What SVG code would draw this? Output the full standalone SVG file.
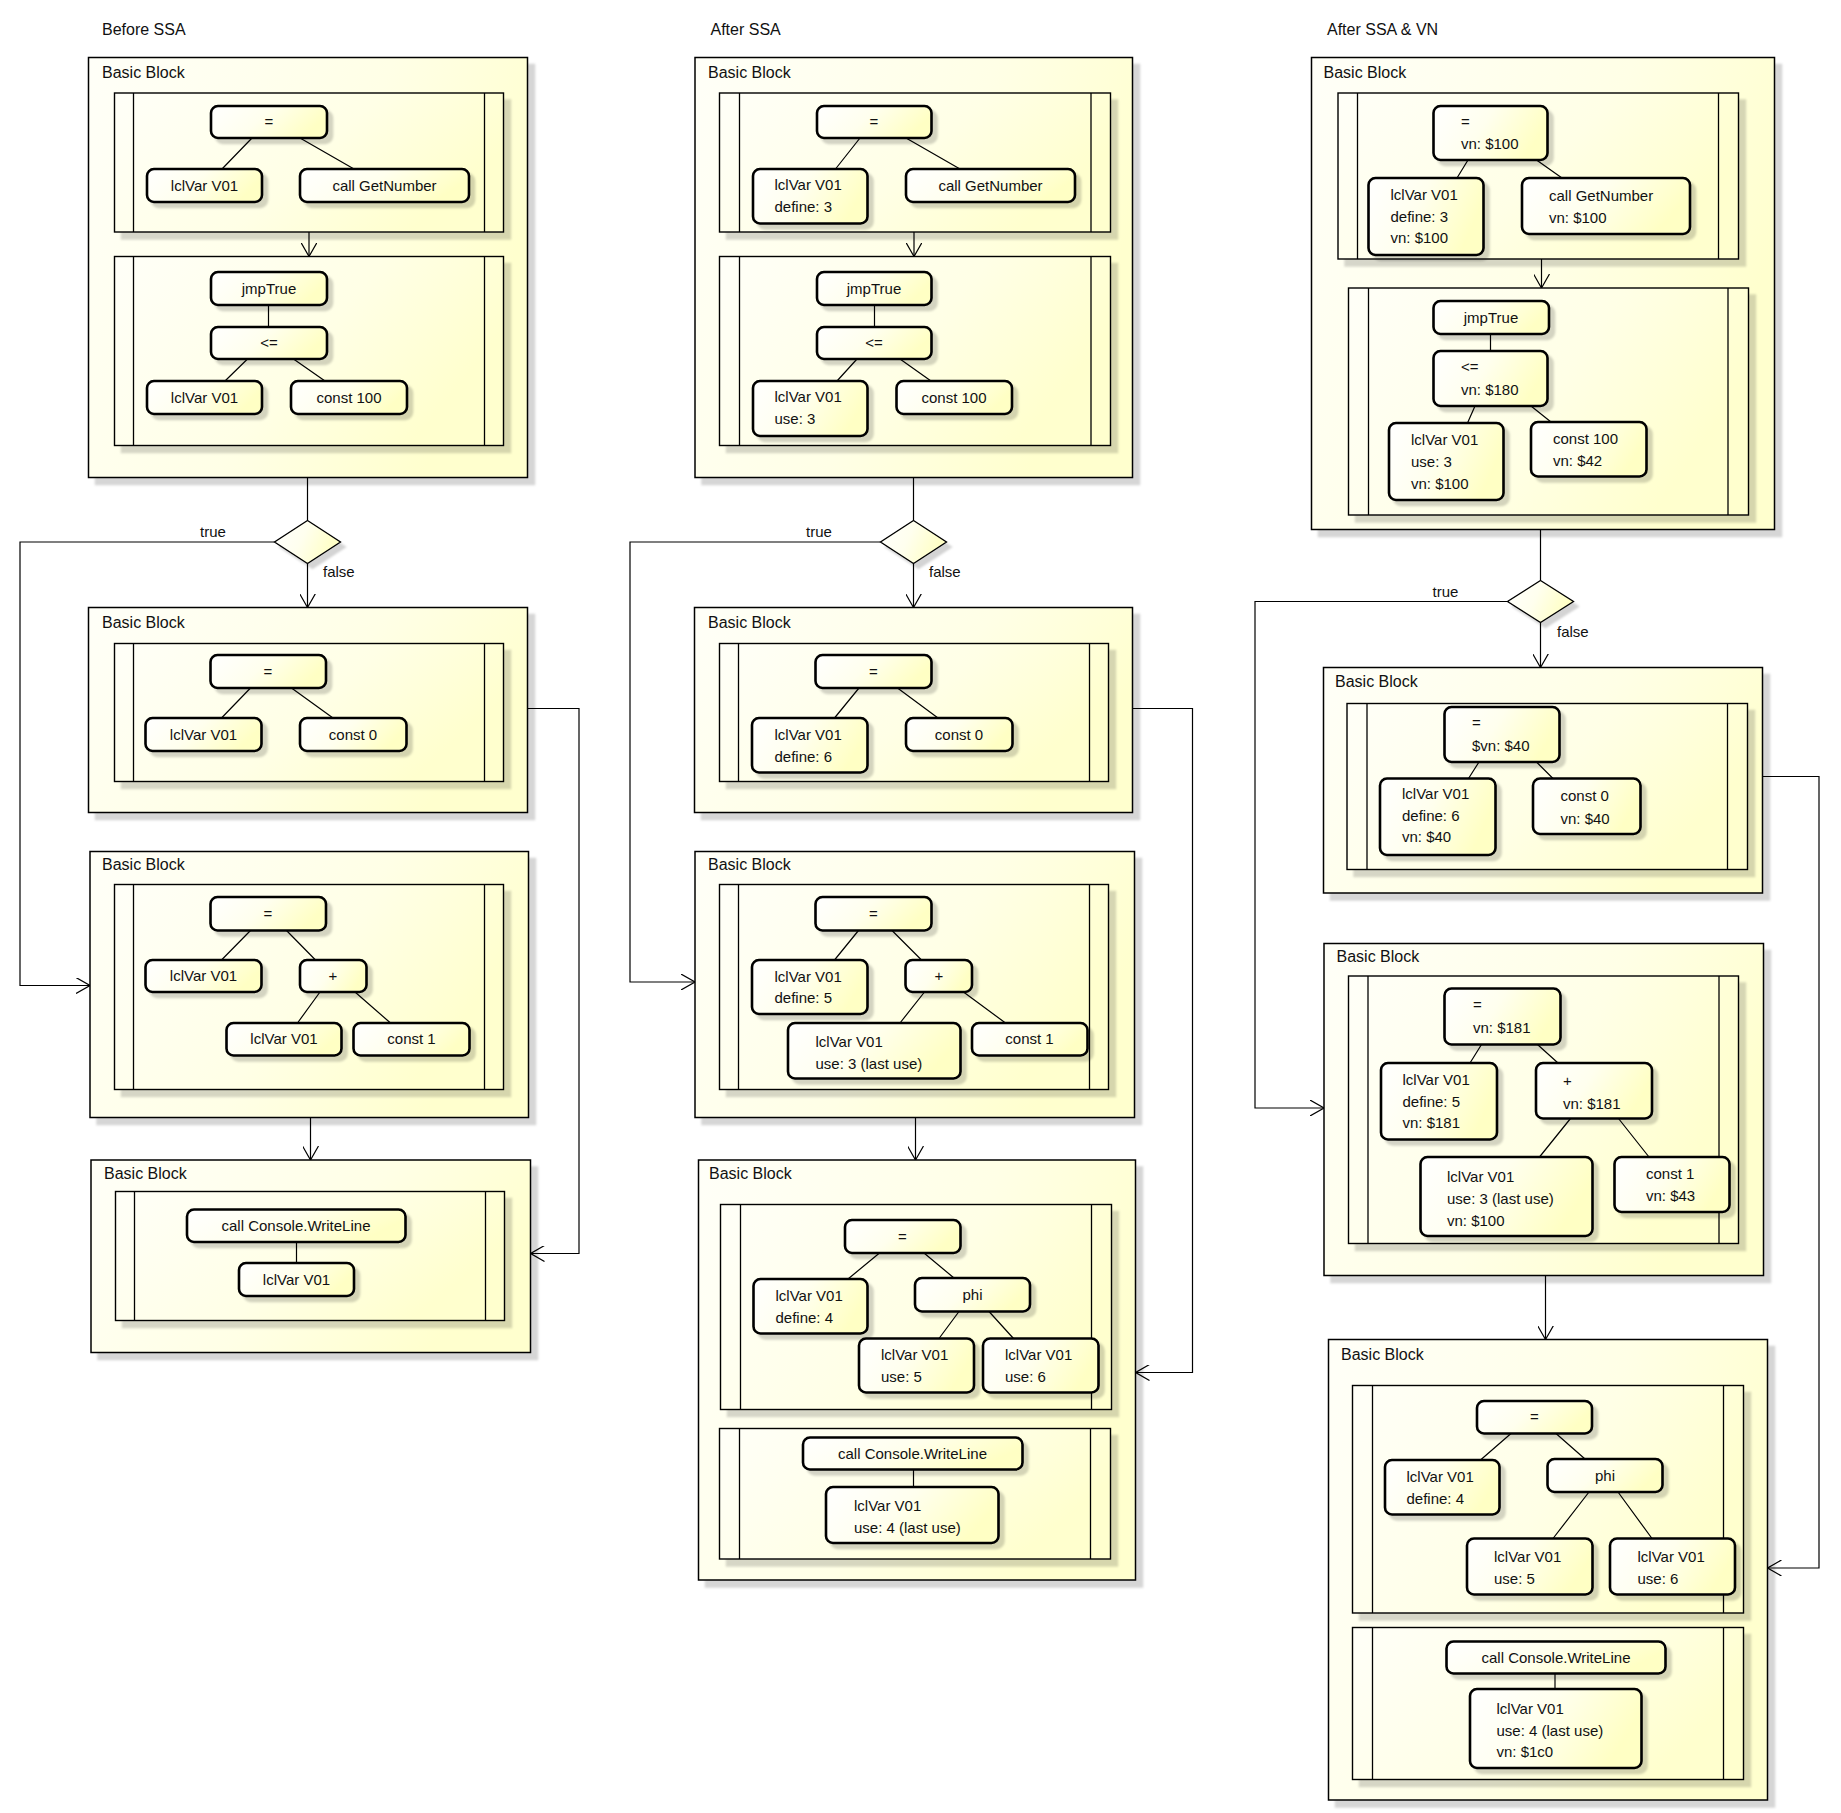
<svg xmlns="http://www.w3.org/2000/svg" width="1841" height="1813" viewBox="0 0 1841 1813">
<defs>
<linearGradient id="gb" x1="0" y1="0" x2="1" y2="0.4"><stop offset="0" stop-color="#FFFFF8"/><stop offset="0.6" stop-color="#FFFFE6"/><stop offset="1" stop-color="#FFFFCE"/></linearGradient>
<linearGradient id="gn" x1="0" y1="0" x2="1" y2="0.3"><stop offset="0" stop-color="#FFFFFF"/><stop offset="0.5" stop-color="#FFFFEE"/><stop offset="1" stop-color="#FFFFC4"/></linearGradient>
<filter id="ds" x="-5%" y="-5%" width="115%" height="120%"><feOffset in="SourceAlpha" dx="7" dy="7" result="o"/><feGaussianBlur in="o" stdDeviation="1" result="b"/><feFlood flood-color="#000" flood-opacity="0.16"/><feComposite in2="b" operator="in" result="s"/><feMerge><feMergeNode in="s"/><feMergeNode in="SourceGraphic"/></feMerge></filter>
<filter id="ds2" x="-10%" y="-10%" width="140%" height="160%"><feOffset in="SourceAlpha" dx="5" dy="5" result="o"/><feGaussianBlur in="o" stdDeviation="1.2" result="b"/><feFlood flood-color="#000" flood-opacity="0.17"/><feComposite in2="b" operator="in" result="s"/><feMerge><feMergeNode in="s"/><feMergeNode in="SourceGraphic"/></feMerge></filter>
<marker id="arr" markerUnits="userSpaceOnUse" viewBox="0 0 14 16" refX="14" refY="8" markerWidth="14" markerHeight="16" orient="auto"><path d="M0,0 L14,8 L0,16" fill="none" stroke="#000" stroke-width="1.2"/></marker>
</defs>
<style>
.blk{fill:url(#gb);stroke:#000;stroke-width:1.5;filter:url(#ds)}
.cmp{fill:url(#gb);stroke:#000;stroke-width:1.4;filter:url(#ds)}
.bar{stroke:#000;stroke-width:1.3}
.nd{fill:url(#gn);stroke:#000;stroke-width:2.6;filter:url(#ds2)}
.dm{fill:url(#gn);stroke:#000;stroke-width:1.3;filter:url(#ds2)}
.ed{stroke:#000;stroke-width:1.2;fill:none}
.ar{marker-end:url(#arr)}
text{font-family:"Liberation Sans",Arial,sans-serif;font-size:15px;fill:#111}
.c{text-anchor:middle}
.h{font-size:16px}
</style>
<rect width="1841" height="1813" fill="#fff"/>

<text class="h" x="102" y="35">Before SSA</text>
<text class="h" x="710.5" y="35">After SSA</text>
<text class="h" x="1327" y="35">After SSA &amp; VN</text>

<!-- ================= COLUMN 1 ================= -->
<g id="c1b1">
<rect class="blk" x="88.5" y="57.5" width="439" height="420"/>
<text class="h" x="102" y="78">Basic Block</text>
<g id="c1b1s1"><rect class="cmp" x="114.5" y="93" width="389" height="139"/><line class="bar" x1="133.5" y1="93" x2="133.5" y2="232"/><line class="bar" x1="484.5" y1="93" x2="484.5" y2="232"/>
<g id="c1n1"><rect class="nd" x="211" y="106" width="116" height="32" rx="7"/><text class="c" x="269" y="127">=</text></g>
<g id="c1n2"><rect class="nd" x="147" y="169" width="115" height="33" rx="7"/><text class="c" x="204.5" y="190.5">lclVar V01</text></g>
<g id="c1n3"><rect class="nd" x="300" y="169" width="169" height="33" rx="7"/><text class="c" x="384.5" y="190.5">call GetNumber</text></g>
</g>
<g id="c1b1s2"><rect class="cmp" x="114.5" y="256.5" width="389" height="189"/><line class="bar" x1="133.5" y1="256.5" x2="133.5" y2="445.5"/><line class="bar" x1="484.5" y1="256.5" x2="484.5" y2="445.5"/>
<g id="c1n4"><rect class="nd" x="211" y="272" width="116" height="33" rx="7"/><text class="c" x="269" y="293.5">jmpTrue</text></g>
<g id="c1n5"><rect class="nd" x="211" y="327" width="116" height="32" rx="7"/><text class="c" x="269" y="348">&lt;=</text></g>
<g id="c1n6"><rect class="nd" x="147" y="381" width="115" height="33" rx="7"/><text class="c" x="204.5" y="402.5">lclVar V01</text></g>
<g id="c1n7"><rect class="nd" x="291" y="381" width="116" height="33" rx="7"/><text class="c" x="349" y="402.5">const 100</text></g>
</g>
</g>
<g id="c1d"><polygon class="dm" points="307.5,520.5 340.5,542 307.5,563.5 274.5,542"/></g>

<g id="c1b2">
<rect class="blk" x="88.5" y="607.5" width="439" height="205"/>
<text class="h" x="102" y="628">Basic Block</text>
<g id="c1b2s1"><rect class="cmp" x="114.5" y="643.5" width="389" height="138"/><line class="bar" x1="133.5" y1="643.5" x2="133.5" y2="781.5"/><line class="bar" x1="484.5" y1="643.5" x2="484.5" y2="781.5"/>
<g id="c1n8"><rect class="nd" x="210.5" y="655" width="115.5" height="33" rx="7"/><text class="c" x="268" y="676.5">=</text></g>
<g id="c1n9"><rect class="nd" x="145.5" y="718" width="116" height="33" rx="7"/><text class="c" x="203.5" y="739.5">lclVar V01</text></g>
<g id="c1n10"><rect class="nd" x="300" y="718" width="106.5" height="33" rx="7"/><text class="c" x="353" y="739.5">const 0</text></g>
</g>
</g>

<g id="c1b3">
<rect class="blk" x="90" y="851.5" width="438.5" height="266"/>
<text class="h" x="102" y="870">Basic Block</text>
<g id="c1b3s1"><rect class="cmp" x="114.5" y="884.5" width="389" height="205"/><line class="bar" x1="133.5" y1="884.5" x2="133.5" y2="1089.5"/><line class="bar" x1="484.5" y1="884.5" x2="484.5" y2="1089.5"/>
<g id="c1n11"><rect class="nd" x="210.5" y="897" width="115.5" height="33.5" rx="7"/><text class="c" x="268" y="919">=</text></g>
<g id="c1n12"><rect class="nd" x="145.5" y="960" width="116" height="32" rx="7"/><text class="c" x="203.5" y="981">lclVar V01</text></g>
<g id="c1n13"><rect class="nd" x="300" y="960" width="66.5" height="32" rx="7"/><text class="c" x="333" y="981">+</text></g>
<g id="c1n14"><rect class="nd" x="226.5" y="1023" width="115" height="32.5" rx="7"/><text class="c" x="284" y="1044">lclVar V01</text></g>
<g id="c1n15"><rect class="nd" x="353.5" y="1023" width="116" height="32.5" rx="7"/><text class="c" x="411.5" y="1044">const 1</text></g>
</g>
</g>

<g id="c1b4">
<rect class="blk" x="91" y="1160" width="439.5" height="192.5"/>
<text class="h" x="104" y="1179">Basic Block</text>
<g id="c1b4s1"><rect class="cmp" x="115.5" y="1191.5" width="389" height="129"/><line class="bar" x1="134.5" y1="1191.5" x2="134.5" y2="1320.5"/><line class="bar" x1="485.5" y1="1191.5" x2="485.5" y2="1320.5"/>
<g id="c1n16"><rect class="nd" x="187" y="1209.5" width="218.5" height="32.5" rx="7"/><text class="c" x="296" y="1231">call Console.WriteLine</text></g>
<g id="c1n17"><rect class="nd" x="239" y="1263" width="115" height="33" rx="7"/><text class="c" x="296.5" y="1284.5">lclVar V01</text></g>
</g>
</g>

<!-- ================= COLUMN 2 ================= -->
<g id="c2b1">
<rect class="blk" x="695" y="57.5" width="437.5" height="420"/>
<text class="h" x="708" y="78">Basic Block</text>
<g id="c2b1s1"><rect class="cmp" x="719.5" y="93" width="391" height="139"/><line class="bar" x1="739.5" y1="93" x2="739.5" y2="232"/><line class="bar" x1="1091" y1="93" x2="1091" y2="232"/>
<g id="c2n1"><rect class="nd" x="817" y="106" width="114.5" height="32" rx="7"/><text class="c" x="874" y="127">=</text></g>
<g id="c2n2"><rect class="nd" x="753" y="169" width="114.5" height="54.5" rx="7"/><text x="774.5" y="190">lclVar V01</text><text x="774.5" y="212">define: 3</text></g>
<g id="c2n3"><rect class="nd" x="906" y="169" width="169" height="33" rx="7"/><text class="c" x="990.5" y="190.5">call GetNumber</text></g>
</g>
<g id="c2b1s2"><rect class="cmp" x="719.5" y="256.5" width="391" height="189"/><line class="bar" x1="739.5" y1="256.5" x2="739.5" y2="445.5"/><line class="bar" x1="1091" y1="256.5" x2="1091" y2="445.5"/>
<g id="c2n4"><rect class="nd" x="817" y="272" width="114.5" height="33" rx="7"/><text class="c" x="874" y="293.5">jmpTrue</text></g>
<g id="c2n5"><rect class="nd" x="817" y="327" width="114.5" height="32" rx="7"/><text class="c" x="874" y="348">&lt;=</text></g>
<g id="c2n6"><rect class="nd" x="753" y="381" width="114.5" height="55" rx="7"/><text x="774.5" y="402">lclVar V01</text><text x="774.5" y="424">use: 3</text></g>
<g id="c2n7"><rect class="nd" x="896.5" y="381" width="115.5" height="33" rx="7"/><text class="c" x="954" y="402.5">const 100</text></g>
</g>
</g>
<g id="c2d"><polygon class="dm" points="913.5,520.5 946.5,542 913.5,563.5 880.5,542"/></g>

<g id="c2b2">
<rect class="blk" x="694.5" y="607.5" width="438" height="205"/>
<text class="h" x="708" y="628">Basic Block</text>
<g id="c2b2s1"><rect class="cmp" x="719.5" y="643.5" width="389" height="138"/><line class="bar" x1="738.5" y1="643.5" x2="738.5" y2="781.5"/><line class="bar" x1="1089.5" y1="643.5" x2="1089.5" y2="781.5"/>
<g id="c2n8"><rect class="nd" x="815.5" y="655" width="116" height="33" rx="7"/><text class="c" x="873.5" y="676.5">=</text></g>
<g id="c2n9"><rect class="nd" x="752" y="718" width="115.5" height="54.5" rx="7"/><text x="774.5" y="739.5">lclVar V01</text><text x="774.5" y="761.5">define: 6</text></g>
<g id="c2n10"><rect class="nd" x="906" y="718" width="106.5" height="33" rx="7"/><text class="c" x="959" y="739.5">const 0</text></g>
</g>
</g>

<g id="c2b3">
<rect class="blk" x="695" y="851.5" width="439.5" height="266"/>
<text class="h" x="708" y="870">Basic Block</text>
<g id="c2b3s1"><rect class="cmp" x="719.5" y="884.5" width="389" height="205"/><line class="bar" x1="738.5" y1="884.5" x2="738.5" y2="1089.5"/><line class="bar" x1="1089.5" y1="884.5" x2="1089.5" y2="1089.5"/>
<g id="c2n11"><rect class="nd" x="815.5" y="897" width="116" height="33.5" rx="7"/><text class="c" x="873.5" y="919">=</text></g>
<g id="c2n12"><rect class="nd" x="752" y="960" width="115.5" height="54" rx="7"/><text x="774.5" y="981.5">lclVar V01</text><text x="774.5" y="1003">define: 5</text></g>
<g id="c2n13"><rect class="nd" x="905.5" y="960" width="66.5" height="32" rx="7"/><text class="c" x="939" y="981">+</text></g>
<g id="c2n14"><rect class="nd" x="788" y="1023" width="172.5" height="55.5" rx="7"/><text x="815.5" y="1046.5">lclVar V01</text><text x="815.5" y="1068.5">use: 3 (last use)</text></g>
<g id="c2n15"><rect class="nd" x="972" y="1023" width="115.5" height="32.5" rx="7"/><text class="c" x="1029.5" y="1044">const 1</text></g>
</g>
</g>

<g id="c2b4">
<rect class="blk" x="698.5" y="1160" width="437" height="420"/>
<text class="h" x="709" y="1179">Basic Block</text>
<g id="c2b4s1"><rect class="cmp" x="720.5" y="1204.5" width="391" height="205"/><line class="bar" x1="740.5" y1="1204.5" x2="740.5" y2="1409.5"/><line class="bar" x1="1091.5" y1="1204.5" x2="1091.5" y2="1409.5"/>
<g id="c2n16"><rect class="nd" x="845" y="1220" width="115.5" height="33" rx="7"/><text class="c" x="902.5" y="1241.5">=</text></g>
<g id="c2n17"><rect class="nd" x="753.5" y="1279" width="114" height="54.5" rx="7"/><text x="775.5" y="1300.5">lclVar V01</text><text x="775.5" y="1322.5">define: 4</text></g>
<g id="c2n18"><rect class="nd" x="915" y="1278" width="115" height="33.5" rx="7"/><text class="c" x="972.5" y="1300">phi</text></g>
<g id="c2n19"><rect class="nd" x="859" y="1338.5" width="115" height="54" rx="7"/><text x="881" y="1359.5">lclVar V01</text><text x="881" y="1381.5">use: 5</text></g>
<g id="c2n20"><rect class="nd" x="983" y="1338.5" width="115.5" height="54" rx="7"/><text x="1005" y="1359.5">lclVar V01</text><text x="1005" y="1381.5">use: 6</text></g>
</g>
<g id="c2b4s2"><rect class="cmp" x="719.5" y="1428.5" width="391" height="130.5"/><line class="bar" x1="739.5" y1="1428.5" x2="739.5" y2="1559"/><line class="bar" x1="1090.5" y1="1428.5" x2="1090.5" y2="1559"/>
<g id="c2n21"><rect class="nd" x="803" y="1437.5" width="219.5" height="32" rx="7"/><text class="c" x="912.5" y="1459">call Console.WriteLine</text></g>
<g id="c2n22"><rect class="nd" x="826" y="1487" width="172.5" height="56" rx="7"/><text x="854" y="1511">lclVar V01</text><text x="854" y="1533">use: 4 (last use)</text></g>
</g>
</g>

<!-- ================= COLUMN 3 ================= -->
<g id="c3b1">
<rect class="blk" x="1311.5" y="57.5" width="463" height="472"/>
<text class="h" x="1323.5" y="78">Basic Block</text>
<g id="c3b1s1"><rect class="cmp" x="1338" y="93" width="400.5" height="166"/><line class="bar" x1="1357.5" y1="93" x2="1357.5" y2="259"/><line class="bar" x1="1718.5" y1="93" x2="1718.5" y2="259"/>
<g id="c3n1"><rect class="nd" x="1433.5" y="106" width="114" height="54" rx="7"/><text x="1461" y="127">=</text><text x="1461" y="149">vn: $100</text></g>
<g id="c3n2"><rect class="nd" x="1368.5" y="178" width="115" height="77" rx="7"/><text x="1390.5" y="199.5">lclVar V01</text><text x="1390.5" y="221.5">define: 3</text><text x="1390.5" y="243">vn: $100</text></g>
<g id="c3n3"><rect class="nd" x="1522" y="178" width="168" height="56" rx="7"/><text x="1549" y="201">call GetNumber</text><text x="1549" y="223">vn: $100</text></g>
</g>
<g id="c3b1s2"><rect class="cmp" x="1348.5" y="288" width="400" height="227"/><line class="bar" x1="1368.5" y1="288" x2="1368.5" y2="515"/><line class="bar" x1="1728" y1="288" x2="1728" y2="515"/>
<g id="c3n4"><rect class="nd" x="1433.5" y="301" width="115.5" height="33" rx="7"/><text class="c" x="1491" y="322.5">jmpTrue</text></g>
<g id="c3n5"><rect class="nd" x="1433.5" y="351" width="114" height="55" rx="7"/><text x="1461" y="372">&lt;=</text><text x="1461" y="394.5">vn: $180</text></g>
<g id="c3n6"><rect class="nd" x="1389" y="423" width="114.5" height="77" rx="7"/><text x="1411" y="445">lclVar V01</text><text x="1411" y="467">use: 3</text><text x="1411" y="488.5">vn: $100</text></g>
<g id="c3n7"><rect class="nd" x="1531" y="422" width="115.5" height="54.5" rx="7"/><text x="1553" y="444">const 100</text><text x="1553" y="466">vn: $42</text></g>
</g>
</g>
<g id="c3d"><polygon class="dm" points="1540.5,580.5 1573.5,601.5 1540.5,622.5 1507.5,601.5"/></g>

<g id="c3b2">
<rect class="blk" x="1323.5" y="667.5" width="439" height="225.5"/>
<text class="h" x="1335" y="687">Basic Block</text>
<g id="c3b2s1"><rect class="cmp" x="1347" y="703.5" width="400.5" height="166"/><line class="bar" x1="1367" y1="703.5" x2="1367" y2="869.5"/><line class="bar" x1="1727.5" y1="703.5" x2="1727.5" y2="869.5"/>
<g id="c3n8"><rect class="nd" x="1444.5" y="707" width="115" height="55" rx="7"/><text x="1472" y="728">=</text><text x="1472" y="750.5">$vn: $40</text></g>
<g id="c3n9"><rect class="nd" x="1380" y="778.5" width="115.5" height="76.5" rx="7"/><text x="1402" y="798.5">lclVar V01</text><text x="1402" y="820.5">define: 6</text><text x="1402" y="842">vn: $40</text></g>
<g id="c3n10"><rect class="nd" x="1533" y="778.5" width="107.5" height="55.5" rx="7"/><text x="1560.5" y="801">const 0</text><text x="1560.5" y="823.5">vn: $40</text></g>
</g>
</g>

<g id="c3b3">
<rect class="blk" x="1324" y="943.5" width="439.5" height="332"/>
<text class="h" x="1336.5" y="962">Basic Block</text>
<g id="c3b3s1"><rect class="cmp" x="1348.5" y="976" width="390" height="267.5"/><line class="bar" x1="1368" y1="976" x2="1368" y2="1243.5"/><line class="bar" x1="1719" y1="976" x2="1719" y2="1243.5"/>
<g id="c3n11"><rect class="nd" x="1444.5" y="988.5" width="116" height="56" rx="7"/><text x="1473" y="1009.5">=</text><text x="1473" y="1032.5">vn: $181</text></g>
<g id="c3n12"><rect class="nd" x="1381" y="1063" width="116" height="76.5" rx="7"/><text x="1402.5" y="1084.5">lclVar V01</text><text x="1402.5" y="1106.5">define: 5</text><text x="1402.5" y="1128">vn: $181</text></g>
<g id="c3n13"><rect class="nd" x="1536" y="1063" width="116" height="55.5" rx="7"/><text x="1563" y="1085.5">+</text><text x="1563" y="1108.5">vn: $181</text></g>
<g id="c3n14"><rect class="nd" x="1420.5" y="1157" width="172" height="79" rx="7"/><text x="1447" y="1182">lclVar V01</text><text x="1447" y="1203.5">use: 3 (last use)</text><text x="1447" y="1225.5">vn: $100</text></g>
<g id="c3n15"><rect class="nd" x="1614.5" y="1157" width="115" height="55" rx="7"/><text x="1646" y="1179">const 1</text><text x="1646" y="1201">vn: $43</text></g>
</g>
</g>

<g id="c3b4">
<rect class="blk" x="1328.5" y="1339.5" width="439" height="460.5"/>
<text class="h" x="1341" y="1360">Basic Block</text>
<g id="c3b4s1"><rect class="cmp" x="1352.5" y="1385.5" width="391" height="227.5"/><line class="bar" x1="1372.5" y1="1385.5" x2="1372.5" y2="1613"/><line class="bar" x1="1723.5" y1="1385.5" x2="1723.5" y2="1613"/>
<g id="c3n16"><rect class="nd" x="1477" y="1401" width="115" height="32.5" rx="7"/><text class="c" x="1534.5" y="1422">=</text></g>
<g id="c3n17"><rect class="nd" x="1385" y="1460" width="114.5" height="54.5" rx="7"/><text x="1406.5" y="1482">lclVar V01</text><text x="1406.5" y="1503.5">define: 4</text></g>
<g id="c3n18"><rect class="nd" x="1547.5" y="1459" width="115" height="33" rx="7"/><text class="c" x="1605" y="1480.5">phi</text></g>
<g id="c3n19"><rect class="nd" x="1467" y="1538.5" width="125.5" height="56" rx="7"/><text x="1494" y="1562">lclVar V01</text><text x="1494" y="1584">use: 5</text></g>
<g id="c3n20"><rect class="nd" x="1610" y="1538.5" width="125" height="56" rx="7"/><text x="1637.5" y="1562">lclVar V01</text><text x="1637.5" y="1584">use: 6</text></g>
</g>
<g id="c3b4s2"><rect class="cmp" x="1352.5" y="1627.5" width="391" height="152"/><line class="bar" x1="1372.5" y1="1627.5" x2="1372.5" y2="1779.5"/><line class="bar" x1="1723.5" y1="1627.5" x2="1723.5" y2="1779.5"/>
<g id="c3n21"><rect class="nd" x="1446.5" y="1641.5" width="219" height="32" rx="7"/><text class="c" x="1556" y="1663">call Console.WriteLine</text></g>
<g id="c3n22"><rect class="nd" x="1470" y="1689" width="171.5" height="79" rx="7"/><text x="1496.5" y="1713.5">lclVar V01</text><text x="1496.5" y="1735.5">use: 4 (last use)</text><text x="1496.5" y="1756.5">vn: $1c0</text></g>
</g>
</g>

<!-- ================= CONNECTORS ================= -->
<g id="connectors">
<!-- column 1 -->
<path class="ed" d="M252,138 L222,169 M300,138 L354,169"/>
<path class="ed ar" d="M309,232 V256.5"/>
<path class="ed" d="M268.5,305 V327 M247.5,359 L225,381 M293.5,359 L325,381"/>
<path class="ed" d="M307.5,477.5 V520.5"/>
<path class="ed ar" d="M274.5,542 H20 V985.5 H90"/>
<path class="ed ar" d="M307.5,563.5 V607.5"/>
<path class="ed" d="M250.5,688 L221.5,718 M291.5,688 L333,718"/>
<path class="ed ar" d="M527.5,708.5 H579 V1253.5 H530.5"/>
<path class="ed" d="M250.5,930.5 L221.5,960 M286.5,930.5 L315.5,960 M320,992 L297.5,1023 M355,992 L390.5,1023"/>
<path class="ed ar" d="M310.5,1117.5 V1160"/>
<path class="ed" d="M296.5,1242 V1263"/>
<!-- column 2 -->
<path class="ed" d="M860,138 L835.5,169 M906,138 L960,169"/>
<path class="ed ar" d="M914,232 V256.5"/>
<path class="ed" d="M874.5,305 V327 M857,359 L837,381 M900,359 L931,381"/>
<path class="ed" d="M913.5,477.5 V520.5"/>
<path class="ed ar" d="M880.5,542 H630 V982 H695"/>
<path class="ed ar" d="M913.5,563.5 V607.5"/>
<path class="ed" d="M859,688 L834.5,718 M897.5,688 L938,718"/>
<path class="ed ar" d="M1132.5,708.5 H1192.5 V1372.5 H1135.5"/>
<path class="ed" d="M858.5,930.5 L834.5,960 M892,930.5 L921.5,960 M924.5,992 L900,1023 M963.5,992 L1005.5,1023"/>
<path class="ed ar" d="M915.5,1117.5 V1160"/>
<path class="ed" d="M879.5,1253 L848,1279 M924,1253 L954,1278 M959,1311.5 L939,1338.5 M989,1311.5 L1013.5,1338.5"/>
<path class="ed" d="M913.5,1469.5 V1487"/>
<!-- column 3 -->
<path class="ed" d="M1468,160 L1457,178 M1536.5,160 L1562,178"/>
<path class="ed ar" d="M1541.5,259 V288"/>
<path class="ed" d="M1490.5,334 V351 M1475,406 L1467.5,423 M1531,406 L1551,422"/>
<path class="ed" d="M1540.5,529.5 V580.5"/>
<path class="ed ar" d="M1507.5,601.5 H1255 V1108 H1324"/>
<path class="ed ar" d="M1540.5,622.5 V667.5"/>
<path class="ed" d="M1479,762 L1468.5,778.5 M1536.5,762 L1553,778.5"/>
<path class="ed ar" d="M1762.5,776.5 H1819 V1568 H1767.5"/>
<path class="ed" d="M1481.5,1044.5 L1470,1063 M1537.5,1044.5 L1558,1063 M1570.5,1118.5 L1539.5,1157 M1618.5,1118.5 L1649,1157"/>
<path class="ed ar" d="M1545.5,1275.5 V1339.5"/>
<path class="ed" d="M1511,1433.5 L1480.5,1460 M1556,1433.5 L1585,1459 M1589,1492 L1553,1538.5 M1618,1492 L1652,1538.5"/>
<path class="ed" d="M1555,1673.5 V1689"/>
</g>

<g id="labels">
<text x="200" y="537">true</text>
<text x="323" y="577">false</text>
<text x="806" y="537">true</text>
<text x="929" y="577">false</text>
<text x="1432.5" y="597">true</text>
<text x="1557" y="637">false</text>
</g>
</svg>
